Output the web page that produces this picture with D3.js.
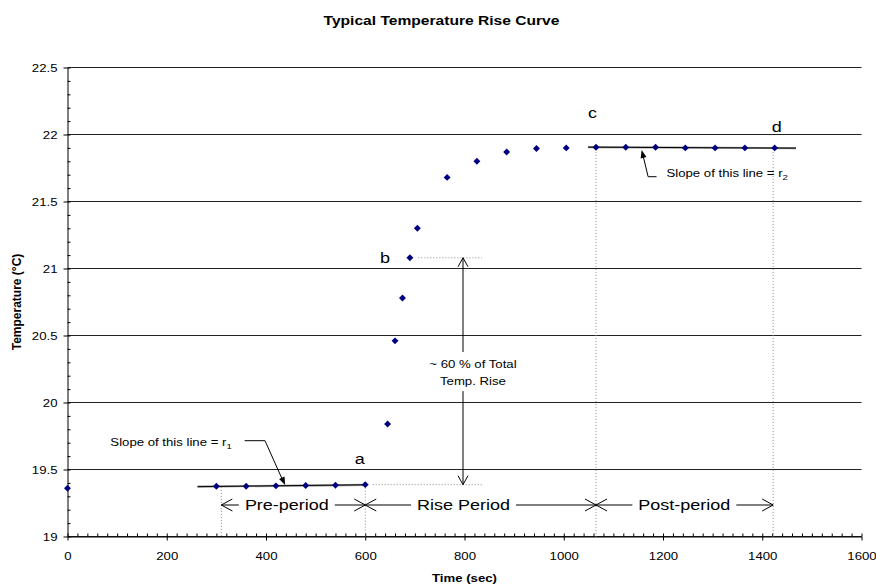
<!DOCTYPE html>
<html>
<head>
<meta charset="utf-8">
<script src="https://cdn.jsdelivr.net/npm/d3@7"></script>
<style>
body {margin: 0; background: #fff;}
text {font-family: "Liberation Sans", Arial, sans-serif; fill: #000;}
</style>
</head>
<body>
<div id="chart-area"></div>
<script>
// data
var times = [0, 300, 360, 420, 480, 540, 600, 645, 660, 675, 690, 705, 765, 825, 885, 945, 1005,
             1065, 1125, 1185, 1245, 1305, 1365, 1425];
var temps = [19.36, 19.375, 19.375, 19.378, 19.38, 19.383, 19.387, 19.84, 20.46, 20.78, 21.08, 21.30,
             21.68, 21.80, 21.87, 21.895, 21.90, 21.905, 21.905, 21.905, 21.90, 21.90, 21.90, 21.90];
var xTicks = [0, 200, 400, 600, 800, 1000, 1200, 1400, 1600];
var yTicks = [19, 19.5, 20, 20.5, 21, 21.5, 22, 22.5];

// trendline ranges (sec) and the points they fit
var preFit = [300, 600], preSpan = [262, 603];
var postFit = [1065, 1425], postSpan = [1049, 1468];

// periods along the bottom
var periodBounds = [310, 600, 1065, 1422];
var periodNames = ["Pre-period", "Rise Period", "Post-period"];
var periodTextAt = [442, 798, 1243];
var periodLevel = 19.235;

// point letters
var letters = ["a", "b", "c", "d"];
var letterTime = [589, 640, 1058, 1429];
var letterTemp = [19.578, 21.08, 22.16, 22.06];

var SX = 1.2; // text is drawn a bit wide like the original

var margin = {top: 67.5, left: 67.5, bottom: 47.5, right: 14.5},
    width = 876 - margin.left - margin.right,
    height = 584 - margin.top - margin.bottom;

var svg = d3.select("#chart-area").append("svg")
    .attr("width", 876)
    .attr("height", 584);

var x = d3.scaleLinear().domain([0, 1600]).range([margin.left, margin.left + width]);
var y = d3.scaleLinear().domain([19, 22.5]).range([margin.top + height, margin.top]);

function label(g, px, py, str, size, anchor, bold) {
    return g.append("text")
        .attr("transform", "translate(" + px + "," + py + ") scale(" + SX + ",1)")
        .attr("text-anchor", anchor || "middle")
        .attr("dy", "0.35em")
        .style("font-size", size + "px")
        .style("font-weight", bold ? "bold" : null)
        .text(str);
}

// title
label(svg, 441.5, 20, "Typical Temperature Rise Curve", 13, "middle", true);

// grid
svg.append("g").selectAll("line").data(yTicks).join("line")
    .attr("x1", x(0)).attr("x2", x(1600))
    .attr("y1", (d) => y(d)).attr("y2", (d) => y(d))
    .attr("stroke", "#222").attr("stroke-width", 1);

// minor ticks (inside)
svg.append("g")
    .attr("transform", "translate(0," + y(19) + ")")
    .call(d3.axisBottom(x).tickValues(d3.range(0, 1601, 20)).tickSize(-3).tickFormat(""))
    .call((g) => g.select(".domain").remove());
svg.append("g")
    .attr("transform", "translate(" + x(0) + ",0)")
    .call(d3.axisLeft(y).tickValues(d3.range(19, 22.51, 0.1)).tickSize(-3).tickFormat(""))
    .call((g) => g.select(".domain").remove());

// main axes
var xAxis = svg.append("g")
    .attr("transform", "translate(0," + y(19) + ")")
    .call(d3.axisBottom(x).tickValues(xTicks).tickFormat(d3.format("")).tickSize(4).tickSizeOuter(0));
xAxis.selectAll("text")
    .attr("y", null).attr("dy", null)
    .attr("transform", "translate(0,20.5) scale(" + SX + ",1)")
    .attr("dominant-baseline", "middle")
    .style("font-size", "11px").style("font-family", null);

var yAxis = svg.append("g")
    .attr("transform", "translate(" + x(0) + ",0)")
    .call(d3.axisLeft(y).tickValues(yTicks).tickFormat(d3.format("")).tickSize(4).tickSizeOuter(0));
yAxis.selectAll("text")
    .attr("x", null).attr("dy", "0.35em")
    .attr("transform", "translate(-10,0) scale(" + SX + ",1)")
    .style("font-size", "11px").style("font-family", null);
svg.selectAll(".domain").attr("stroke", "#000");
svg.selectAll(".tick line").attr("stroke", "#000");

// axis titles
svg.append("text")
    .attr("transform", "translate(17," + y(20.75) + ") rotate(-90)")
    .attr("text-anchor", "middle").attr("dy", "0.35em")
    .style("font-size", "12px").style("font-weight", "bold")
    .text("Temperature (°C)");
label(svg, x(800), 578, "Time (sec)", 11, "middle", true);

// dotted guides
var dotted = svg.append("g")
    .attr("stroke", "#8a8a8a").attr("stroke-width", 1).attr("stroke-dasharray", "1,2").attr("fill", "none");
var guides = [
    [[periodBounds[0], 19.37], [periodBounds[0], 19]],
    [[periodBounds[1], temps[6]], [periodBounds[1], 19]],
    [[periodBounds[2], 21.87], [periodBounds[2], 19]],
    [[periodBounds[3], 21.87], [periodBounds[3], 19]],
    [[707, temps[10]], [835, temps[10]]],
    [[615, temps[6]], [835, temps[6]]]
];
dotted.selectAll("line").data(guides).join("line")
    .attr("x1", (d) => x(d[0][0])).attr("y1", (d) => y(d[0][1]))
    .attr("x2", (d) => x(d[1][0])).attr("y2", (d) => y(d[1][1]));

// trendlines
function fit(lo, hi) {
    var pts = times.map((t, i) => [t, temps[i]]).filter((p) => p[0] >= lo && p[0] <= hi);
    var mx = d3.mean(pts, (p) => p[0]), my = d3.mean(pts, (p) => p[1]);
    var b = d3.sum(pts, (p) => (p[0] - mx) * (p[1] - my)) / d3.sum(pts, (p) => (p[0] - mx) * (p[0] - mx));
    return (t) => my + b * (t - mx);
}
var fPre = fit(preFit[0], preFit[1]), fPost = fit(postFit[0], postFit[1]);
[[preSpan, fPre], [postSpan, fPost]].forEach((s) => {
    svg.append("line")
        .attr("x1", x(s[0][0])).attr("y1", y(s[1](s[0][0])))
        .attr("x2", x(s[0][1])).attr("y2", y(s[1](s[0][1])))
        .attr("stroke", "#999").attr("stroke-width", 2.2);
    svg.append("line")
        .attr("x1", x(s[0][0])).attr("y1", y(s[1](s[0][0])))
        .attr("x2", x(s[0][1])).attr("y2", y(s[1](s[0][1])))
        .attr("stroke", "#000").attr("stroke-width", 1);
});

// open arrowhead, tip at (tx,ty), pointing along angle a
function openHead(g, tx, ty, a, len, half) {
    var bx = tx - Math.cos(a) * len, by = ty - Math.sin(a) * len;
    var nx = -Math.sin(a) * half, ny = Math.cos(a) * half;
    g.append("path")
        .attr("d", "M" + (bx + nx) + "," + (by + ny) + "L" + tx + "," + ty + "L" + (bx - nx) + "," + (by - ny))
        .attr("fill", "none").attr("stroke", "#000").attr("stroke-width", 1);
}
function solidHead(g, tx, ty, a, len, half) {
    var bx = tx - Math.cos(a) * len, by = ty - Math.sin(a) * len;
    var nx = -Math.sin(a) * half, ny = Math.cos(a) * half;
    g.append("path")
        .attr("d", "M" + (bx + nx) + "," + (by + ny) + "L" + tx + "," + ty + "L" + (bx - nx) + "," + (by - ny) + "Z")
        .attr("fill", "#000");
}

var notes = svg.append("g");

// period arrows
var py = y(periodLevel);
periodNames.forEach((name, i) => {
    var x0 = x(periodBounds[i]), x1 = x(periodBounds[i + 1]), cx = x(periodTextAt[i]);
    var t = label(notes, cx, py, name, 15, "middle");
    var half = t.node().getComputedTextLength() * SX / 2 + 6;
    notes.append("line").attr("x1", x0).attr("x2", cx - half).attr("y1", py).attr("y2", py)
        .attr("stroke", "#000");
    notes.append("line").attr("x1", cx + half).attr("x2", x1).attr("y1", py).attr("y2", py)
        .attr("stroke", "#000");
    openHead(notes, x0, py, Math.PI, 11, 6);
    openHead(notes, x1, py, 0, 11, 6);
});

// 60 % rise arrow
var ax = x(797);
notes.append("line").attr("x1", ax).attr("x2", ax)
    .attr("y1", y(temps[10])).attr("y2", y(temps[6])).attr("stroke", "#000");
openHead(notes, ax, y(temps[10]), -Math.PI / 2, 9, 5);
openHead(notes, ax, y(temps[6]), Math.PI / 2, 9, 5);
notes.append("rect").attr("x", x(797) - 40).attr("y", y(20.377))
    .attr("width", 96).attr("height", y(20.085) - y(20.377)).attr("fill", "#fff");
label(notes, x(817), y(20.285), "~ 60 % of Total", 11, "middle");
label(notes, x(817), y(20.16), "Temp. Rise", 11, "middle");

// slope notes
var s1 = label(notes, x(331), y(19.703), "Slope of this line = r", 11, "end");
s1.append("tspan").attr("dy", "3").style("font-size", "8px").text("1");
notes.append("path")
    .attr("d", "M" + x(357) + "," + y(19.715) + "L" + x(398) + "," + y(19.715) + "L" + x(436) + "," + y(19.40))
    .attr("fill", "none").attr("stroke", "#000");
solidHead(notes, x(438.5), y(19.384),
    Math.atan2(y(19.384) - y(19.715), x(438.5) - x(398)), 8, 3);

var s2 = label(notes, x(1207), y(21.71), "Slope of this line = r", 11, "start");
s2.append("tspan").attr("dy", "3").style("font-size", "8px").text("2");
notes.append("path")
    .attr("d", "M" + x(1187) + "," + y(21.685) + "L" + x(1170) + "," + y(21.685) + "L" + x(1158) + "," + y(21.87))
    .attr("fill", "none").attr("stroke", "#000");
solidHead(notes, x(1157), y(21.884),
    Math.atan2(y(21.884) - y(21.685), x(1157) - x(1170)), 8, 3);

// letters
letters.forEach((l, i) => label(notes, x(letterTime[i]), y(letterTemp[i]), l, 15, "middle"));

// points
svg.append("g").selectAll("path").data(times).join("path")
    .attr("transform", (d, i) => "translate(" + x(d) + "," + y(temps[i]) + ") rotate(45)")
    .attr("d", d3.symbol().type(d3.symbolSquare).size(24))
    .attr("fill", "#000080");
</script>
</body>
</html>
